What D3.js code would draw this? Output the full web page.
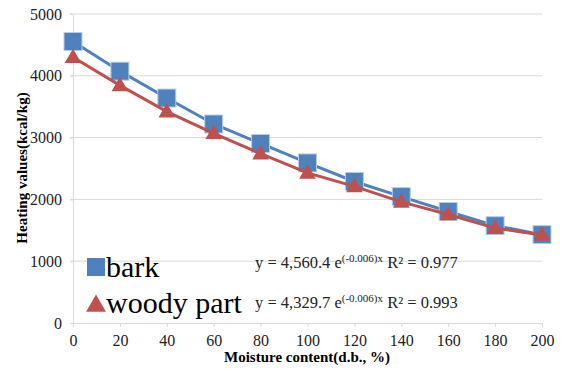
<!DOCTYPE html>
<html>
<head>
<meta charset="utf-8">
<script src="https://cdn.jsdelivr.net/npm/d3@7"></script>
<style>
  body { margin: 0; background: #fff; }
  svg { display: block; font-family: "Liberation Serif", "Times New Roman", serif; }
</style>
</head>
<body>
<div class="chart"></div>
<script>
const moisture = [0, 20, 40, 60, 80, 100, 120, 140, 160, 180, 200];
const barkValues = [4555, 4075, 3640, 3220, 2905, 2590, 2290, 2045, 1805, 1575, 1430];
const woodyValues = [4300, 3845, 3420, 3070, 2740, 2430, 2210, 1960, 1755, 1535, 1425];
const yTicks = [0, 1000, 2000, 3000, 4000, 5000];
const xTicks = [0, 20, 40, 60, 80, 100, 120, 140, 160, 180, 200];
const seriesNames = ["bark", "woody part"];
const equations = [
  { coef: "y = 4,560.4 e", exp: "(-0.006)x", r2: " R² = 0.977" },
  { coef: "y = 4,329.7 e", exp: "(-0.006)x", r2: " R² = 0.993" }
];

const width = 563;
const height = 373;
const margin = { top: 14, right: 21, bottom: 50, left: 73 };
const blue = "#4f81bd";
const red = "#c0504d";
const serif = "Liberation Serif";

const svg = d3.select("div.chart")
  .append("svg")
  .attr("width", width)
  .attr("height", height);

const x = d3.scaleLinear()
  .domain([0, 200])
  .range([margin.left, width - margin.right]);

const y = d3.scaleLinear()
  .domain([0, 5000])
  .range([height - margin.bottom, margin.top]);

// gridlines
svg.append("g")
  .selectAll("line")
  .data(yTicks.filter(d => d > 0))
  .join("line")
  .attr("x1", x(0) - 3)
  .attr("x2", x(200))
  .attr("y1", d => y(d))
  .attr("y2", d => y(d))
  .attr("stroke", "#d9d9d9")
  .attr("stroke-width", 1);

// y axis
svg.append("g")
  .attr("transform", `translate(${x(0)},0)`)
  .call(d3.axisLeft(y).tickValues(yTicks).tickSize(3).tickPadding(8).tickFormat(d3.format("d")))
  .attr("font-family", serif)
  .attr("font-size", 16)
  .call(g => g.selectAll("path, line").attr("stroke", "#d9d9d9"))
  .call(g => g.selectAll("text").attr("fill", "#222"));

// x axis
svg.append("g")
  .attr("transform", `translate(0,${y(0)})`)
  .call(d3.axisBottom(x).tickValues(xTicks).tickSize(4).tickPadding(8).tickFormat(d3.format("d")))
  .attr("font-family", serif)
  .attr("font-size", 16)
  .call(g => g.selectAll("path, line").attr("stroke", "#d9d9d9"))
  .call(g => g.selectAll("text").attr("fill", "#222"));

// axis titles
svg.append("text")
  .attr("x", 307)
  .attr("y", 362)
  .attr("text-anchor", "middle")
  .attr("font-weight", "bold")
  .attr("font-size", 15)
  .text("Moisture content(d.b., %)");

svg.append("text")
  .attr("transform", `translate(27,168) rotate(-90)`)
  .attr("text-anchor", "middle")
  .attr("font-weight", "bold")
  .attr("font-size", 15)
  .text("Heating values(kcal/kg)");

const line = d3.line()
  .x((d, i) => x(moisture[i]))
  .y(d => y(d));

const tri = d3.symbol().type(d3.symbolTriangle).size(120);

// bark series
svg.append("path")
  .attr("d", line(barkValues))
  .attr("fill", "none")
  .attr("stroke", blue)
  .attr("stroke-width", 3);

svg.append("g")
  .selectAll("rect")
  .data(barkValues)
  .join("rect")
  .attr("x", (d, i) => x(moisture[i]) - 9)
  .attr("y", d => y(d) - 9)
  .attr("width", 18)
  .attr("height", 18)
  .attr("fill", blue)
  .attr("stroke", "#b9cde5")
  .attr("stroke-width", 1);

// woody part series
svg.append("path")
  .attr("d", line(woodyValues))
  .attr("fill", "none")
  .attr("stroke", red)
  .attr("stroke-width", 3);

svg.append("g")
  .selectAll("path")
  .data(woodyValues)
  .join("path")
  .attr("d", tri)
  .attr("transform", (d, i) => `translate(${x(moisture[i])},${y(d) + 1})`)
  .attr("fill", red);

// legend
const legend = svg.append("g");
legend.append("rect")
  .attr("x", 87).attr("y", 258).attr("width", 18).attr("height", 18)
  .attr("fill", blue);
legend.append("path")
  .attr("d", d3.symbol().type(d3.symbolTriangle).size(170))
  .attr("transform", "translate(96,306)")
  .attr("fill", red);
legend.selectAll("text.name")
  .data(seriesNames)
  .join("text")
  .attr("class", "name")
  .attr("x", 106)
  .attr("y", (d, i) => 277 + i * 36)
  .attr("font-size", 30)
  .attr("fill", "#000")
  .text(d => d);

// trendline equations
const eq = svg.append("g").selectAll("text")
  .data(equations)
  .join("text")
  .attr("x", 255)
  .attr("y", (d, i) => 268 + i * 40)
  .attr("font-size", 16.5)
  .attr("fill", "#222");
eq.append("tspan").text(d => d.coef);
eq.append("tspan").attr("font-size", 11).attr("dy", -6).text(d => d.exp);
eq.append("tspan").attr("dy", 6).text(d => d.r2);
</script>
</body>
</html>
